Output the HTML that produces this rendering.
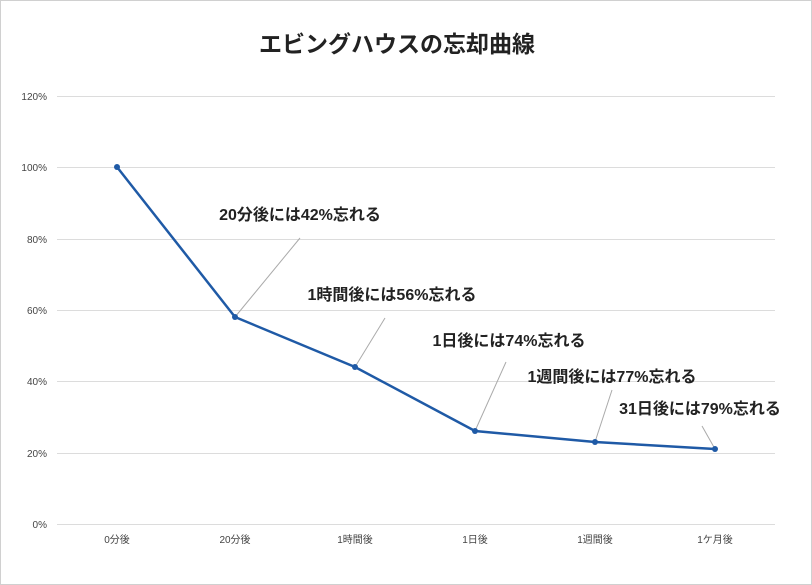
<!DOCTYPE html><html><head><meta charset="utf-8"><style>body{margin:0;background:#fff}svg{display:block}</style></head><body>
<svg width="812" height="585" xmlns="http://www.w3.org/2000/svg" font-family="'Liberation Sans','Noto Sans CJK JP',sans-serif">
<rect x="0.5" y="0.5" width="811" height="584" fill="#fff" stroke="#d0d0d0"/>
<text x="397" y="52" text-anchor="middle" font-size="23" font-weight="bold" fill="#222">エビングハウスの忘却曲線</text>
<g stroke="#dcdcdc" stroke-width="1">
<line x1="57" y1="96.5" x2="775" y2="96.5"/><line x1="57" y1="167.5" x2="775" y2="167.5"/><line x1="57" y1="239.5" x2="775" y2="239.5"/><line x1="57" y1="310.5" x2="775" y2="310.5"/><line x1="57" y1="381.5" x2="775" y2="381.5"/><line x1="57" y1="453.5" x2="775" y2="453.5"/><line x1="57" y1="524.5" x2="775" y2="524.5"/></g>
<g font-size="10" fill="#444" text-anchor="end">
<text x="47" y="100">120%</text><text x="47" y="171">100%</text><text x="47" y="243">80%</text><text x="47" y="314">60%</text><text x="47" y="385">40%</text><text x="47" y="457">20%</text><text x="47" y="528">0%</text></g>
<g font-size="10" fill="#444" text-anchor="middle">
<text x="117" y="543">0分後</text><text x="235" y="543">20分後</text><text x="355" y="543">1時間後</text><text x="475" y="543">1日後</text><text x="595" y="543">1週間後</text><text x="715" y="543">1ケ月後</text></g>
<g stroke="#aaa" stroke-width="1">
<line x1="235" y1="317" x2="300" y2="238"/><line x1="355" y1="367" x2="385" y2="318"/><line x1="475" y1="431" x2="506" y2="362"/><line x1="595" y1="442" x2="612" y2="390"/><line x1="715" y1="449" x2="702" y2="426"/></g>
<polyline points="117,167 235,317 355,367 475,431 595,442 715,449" fill="none" stroke="#1f5aa6" stroke-width="2.5"/>
<g fill="#1f5aa6"><circle cx="117" cy="167" r="3"/><circle cx="235" cy="317" r="3"/><circle cx="355" cy="367" r="3"/><circle cx="475" cy="431" r="3"/><circle cx="595" cy="442" r="3"/><circle cx="715" cy="449" r="3"/></g>
<g font-size="16" font-weight="bold" fill="#222" text-anchor="middle">
<text x="300" y="220">20分後には42%忘れる</text><text x="392" y="300">1時間後には56%忘れる</text><text x="509" y="346">1日後には74%忘れる</text><text x="612" y="382">1週間後には77%忘れる</text><text x="700" y="414">31日後には79%忘れる</text></g>
</svg></body></html>
